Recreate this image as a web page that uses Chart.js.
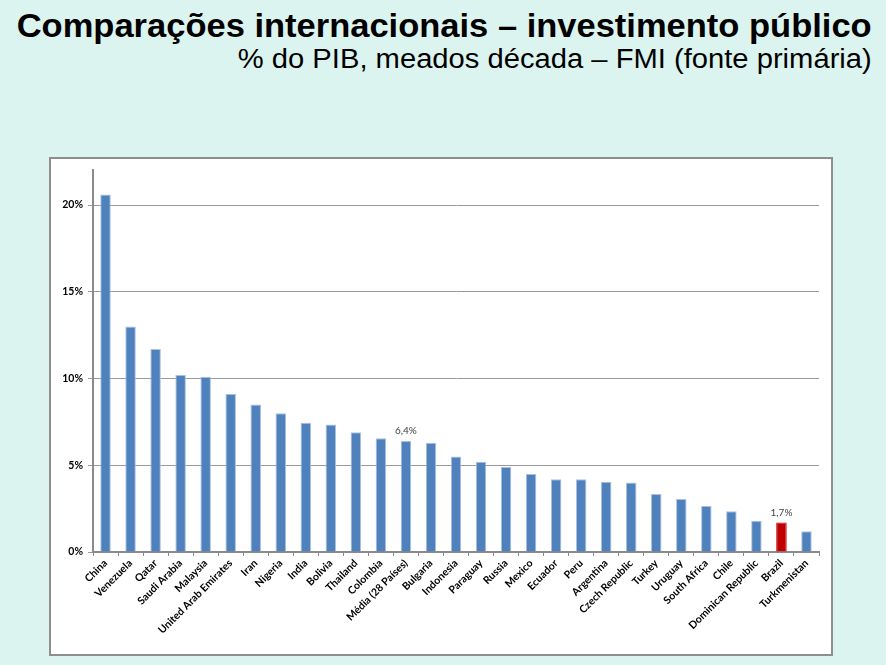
<!DOCTYPE html>
<html>
<head>
<meta charset="utf-8">
<script src="https://cdn.jsdelivr.net/npm/chart.js@4.4.1/dist/chart.umd.min.js"></script>
<style>
    body { margin: 0; background: #dcf4ef; width: 886px; height: 665px; overflow: hidden; position: relative; }
    #titulo { position: absolute; right: 14px; top: 5px; text-align: right; font-family: "Liberation Sans", Arial, sans-serif; color: #000; }
    #titulo div { white-space: nowrap; }
    #titulo span { display: inline-block; transform-origin: right top; }
    #titulo .t1 { font-weight: bold; font-size: 34px; line-height: 40px; }
    #titulo .t2 { font-size: 27px; line-height: 30px; margin-top: -1px; }
    #caixa { position: absolute; left: 49px; top: 157px; width: 780px; height: 495px; background: #fff; border: 2px solid #8e8e8e; }
</style>
</head>
<body>
<div id="titulo">
    <div class="t1"><span>Comparações internacionais – investimento público</span></div>
    <div class="t2"><span>% do PIB, meados década – FMI (fonte primária)</span></div>
</div>
<div id="caixa"><canvas id="grafico" width="780" height="495"></canvas></div>
<script>
"use strict";

/* países (ordem do gráfico) */
const paises = ['China', 'Venezuela', 'Qatar', 'Saudi Arabia', 'Malaysia', 'United Arab Emirates', 'Iran',
    'Nigeria', 'India', 'Bolivia', 'Thailand', 'Colombia', 'Média (28 Países)', 'Bulgaria', 'Indonesia',
    'Paraguay', 'Russia', 'Mexico', 'Ecuador', 'Peru', 'Argentina', 'Czech Republic', 'Turkey', 'Uruguay',
    'South Africa', 'Chile', 'Dominican Republic', 'Brazil', 'Turkmenistan'];
/* investimento público, % do PIB */
const valores = [20.6, 13.0, 11.7, 10.2, 10.1, 9.1, 8.5, 8.0, 7.45, 7.35, 6.9, 6.55, 6.4, 6.3, 5.5,
    5.2, 4.9, 4.5, 4.2, 4.2, 4.05, 4.0, 3.35, 3.05, 2.65, 2.35, 1.8, 1.7, 1.2];
/* rótulos de valor mostrados só em alguns */
const rotulos = { 'Média (28 Países)': '6,4%', 'Brazil': '1,7%' };
const destaque = 'Brazil';
const yMax = 22;
const yTicks = [0, 5, 10, 15, 20];

/* título: ajustar largura como no slide original */
const larguras = { t1: 855, t2: 634 };
for (const cls in larguras) {
    const el = document.querySelector('#titulo .' + cls + ' span');
    const w = el.getBoundingClientRect().width;
    el.style.transform = 'scaleX(' + (larguras[cls] / w) + ')';
}

/* cores: Brasil em vermelho */
const cores = paises.map(p => p == destaque ? '#c00000' : '#4f81bd');
const bordas = paises.map(p => p == destaque ? '#c00000' : '#a9c1e0');

/* plugin simples para escrever os rótulos acima das barras */
const rotuloPlugin = {
    id: 'rotulos',
    afterDatasetsDraw(chart) {
        const ctx = chart.ctx;
        const meta = chart.getDatasetMeta(0);
        ctx.save();
        ctx.font = '10px Lato, "Liberation Sans", sans-serif';
        ctx.fillStyle = '#404040';
        ctx.textAlign = 'center';
        ctx.textBaseline = 'bottom';
        meta.data.forEach((bar, i) => {
            const txt = rotulos[paises[i]];
            if (txt) ctx.fillText(txt, bar.x, bar.y - 5);
        });
        ctx.restore();
    }
};

const fonteEixo = { family: 'Lato, "Liberation Sans", sans-serif', size: 10.5, weight: 'bold' };
const ctx1 = document.getElementById('grafico');

new Chart(ctx1, {
    type: 'bar',
    data: {
        labels: paises,
        datasets: [{
            data: valores,
            backgroundColor: cores,
            borderColor: bordas,
            borderWidth: 1,
            categoryPercentage: 1,
            barPercentage: 0.42
        }]
    },
    options: {
        responsive: false,
        animation: false,
        layout: { padding: { top: 11, right: 12, left: 0, bottom: 0 } },
        plugins: {
            legend: { display: false },
            tooltip: { enabled: false }
        },
        scales: {
            x: {
                afterFit(axis) { axis.height = 102; },
                border: { color: '#8a8a8a', width: 2 },
                grid: { display: true, drawOnChartArea: false, offset: true, tickLength: 4, color: '#8a8a8a' },
                ticks: {
                    autoSkip: false,
                    minRotation: 45,
                    maxRotation: 45,
                    padding: 1,
                    color: '#000',
                    font: fonteEixo
                }
            },
            y: {
                min: 0,
                max: yMax,
                afterBuildTicks(axis) { axis.ticks = yTicks.map(v => ({ value: v })); },
                afterFit(axis) { axis.width = 42; },
                border: { color: '#8a8a8a', width: 2 },
                grid: { color: '#9a9a9a', lineWidth: 1, tickLength: 5 },
                ticks: {
                    padding: 5,
                    color: '#000',
                    font: fonteEixo,
                    callback: v => v + '%'
                }
            }
        }
    },
    plugins: [rotuloPlugin]
});
</script>
</body>
</html>
